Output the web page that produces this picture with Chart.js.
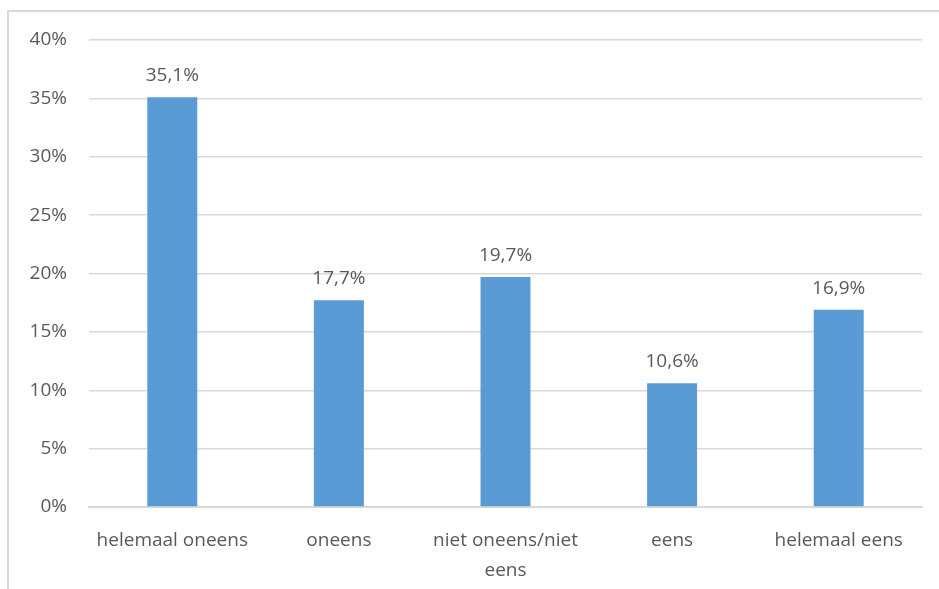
<!DOCTYPE html>
<html>
<head>
<meta charset="utf-8">
<script src="https://cdn.jsdelivr.net/npm/chart.js@4"></script>
<style>
    html, body { margin: 0; padding: 0; background: #fff; }
    #wrap { width: 939px; height: 589px; position: relative; }
</style>
</head>
<body>
<div id="wrap"><canvas id="chart" width="939" height="589"></canvas></div>
<script>
// Survey answers and their share of respondents
const categories = ['helemaal oneens', 'oneens', ['niet oneens/niet', 'eens'], 'eens', 'helemaal eens'];
const shares = [35.1, 17.7, 19.7, 10.6, 16.9];
const yTicks = [0, 5, 10, 15, 20, 25, 30, 35, 40];

const textColor = '#595959';
const gridColor = '#d9d9d9';
const fontFamily = "'Open Sans', 'Liberation Sans', sans-serif";
const fontSize = 19;

function formatPct(v, decimals) {
    return v.toFixed(decimals).replace('.', ',') + '%';
}

// Light frame around the chart, running off the right and bottom edges
const framePlugin = {
    id: 'frame',
    beforeDraw(chart) {
        const ctx = chart.ctx;
        ctx.save();
        ctx.strokeStyle = gridColor;
        ctx.lineWidth = 2;
        ctx.strokeRect(8, 11, 1200, 1200);
        ctx.restore();
    }
};

// Value labels above each bar
const valueLabels = {
    id: 'valueLabels',
    afterDatasetsDraw(chart) {
        const ctx = chart.ctx;
        const meta = chart.getDatasetMeta(0);
        ctx.save();
        ctx.fillStyle = textColor;
        ctx.font = fontSize + 'px ' + fontFamily;
        ctx.textAlign = 'center';
        ctx.textBaseline = 'bottom';
        meta.data.forEach((bar, i) => {
            ctx.fillText(formatPct(shares[i], 1), bar.x, bar.y - 12);
        });
        ctx.restore();
    }
};

new Chart(document.getElementById('chart').getContext('2d'), {
    type: 'bar',
    data: {
        labels: categories,
        datasets: [{
            data: shares,
            backgroundColor: '#5b9bd5',
            borderWidth: 0,
            barPercentage: 0.3,
            categoryPercentage: 1
        }]
    },
    options: {
        responsive: false,
        animation: false,
        layout: { padding: { top: 40, right: 17, left: 0, bottom: 0 } },
        plugins: {
            legend: { display: false },
            tooltip: { enabled: false }
        },
        scales: {
            x: {
                grid: { display: false, drawTicks: false },
                border: { color: gridColor, width: 2 },
                ticks: {
                    color: textColor,
                    font: { family: fontFamily, size: fontSize, lineHeight: 1.6 },
                    padding: 18,
                    maxRotation: 0,
                    autoSkip: false
                },
                afterFit(scale) { scale.height = 82; }
            },
            y: {
                min: 0,
                max: 40,
                afterBuildTicks(scale) { scale.ticks = yTicks.map(v => ({ value: v })); },
                grid: { color: gridColor, lineWidth: 1.5, drawTicks: false },
                border: { display: false },
                ticks: {
                    color: textColor,
                    font: { family: fontFamily, size: fontSize },
                    padding: 22,
                    callback: v => v + '%'
                },
                afterFit(scale) { scale.width = 89; }
            }
        }
    },
    plugins: [framePlugin, valueLabels]
});
</script>
</body>
</html>
